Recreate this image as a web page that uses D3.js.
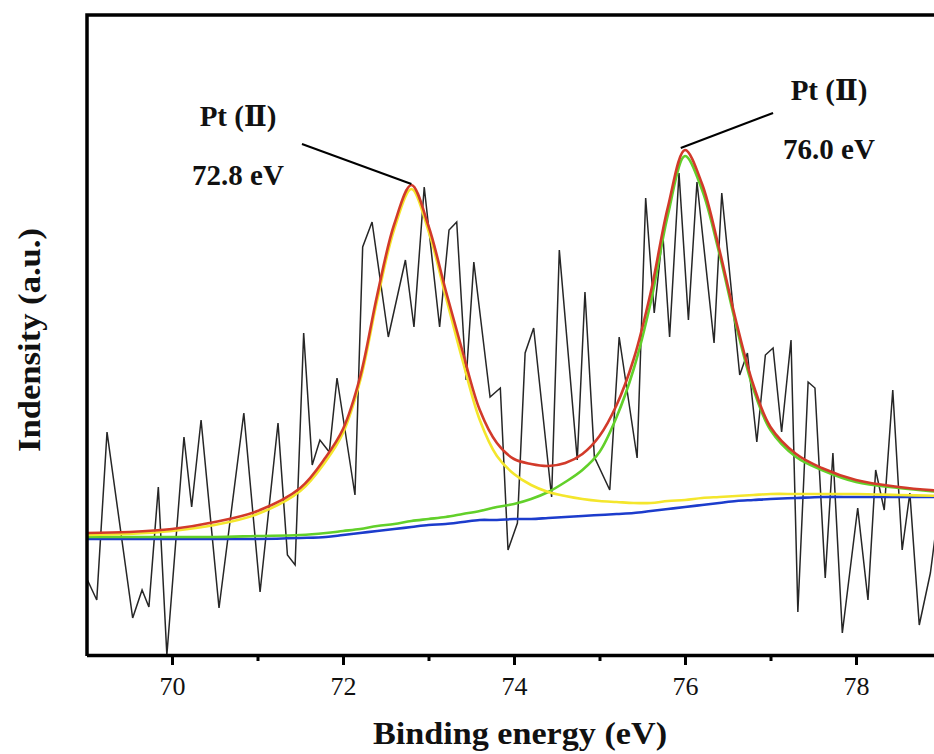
<!DOCTYPE html>
<html>
<head>
<meta charset="utf-8">
<script src="https://cdn.jsdelivr.net/npm/d3@7"></script>
<style>
body { margin: 0; background: #fff; }
text { font-family: "Liberation Serif", "Times New Roman", serif; fill: #111; }
</style>
</head>
<body>
<svg id="chart" width="934" height="754"></svg>
<script>
// measured spectrum (binding energy in eV, intensity in a.u.)
var energy = [69.0, 69.12, 69.24, 69.54, 69.65, 69.73, 69.84, 69.94, 70.14, 70.23,
  70.34, 70.55, 70.84, 71.03, 71.24, 71.35, 71.44, 71.54, 71.64, 71.73,
  71.84, 71.93, 72.14, 72.23, 72.34, 72.53, 72.73, 72.83, 72.95, 73.13,
  73.24, 73.33, 73.44, 73.53, 73.72, 73.84, 73.93, 74.04, 74.13, 74.23,
  74.44, 74.53, 74.74, 74.83, 74.94, 75.12, 75.23, 75.44, 75.54, 75.64,
  75.74, 75.82, 75.93, 76.04, 76.14, 76.34, 76.43, 76.64, 76.73, 76.84,
  76.94, 77.03, 77.13, 77.24, 77.32, 77.44, 77.52, 77.64, 77.73, 77.84,
  78.02, 78.14, 78.23, 78.33, 78.43, 78.54, 78.63, 78.74, 78.87, 78.95];
var counts = [7.7, 5.5, 22.3, 3.7, 6.5, 4.8, 16.8, 0.0, 21.8, 14.8,
  23.5, 4.7, 24.2, 6.3, 23.2, 10.0, 9.0, 32.2, 19.0, 21.5,
  20.3, 27.7, 16.0, 40.8, 43.3, 31.8, 39.5, 32.8, 46.8, 32.8,
  42.5, 43.3, 27.5, 39.3, 25.8, 26.7, 10.5, 13.2, 30.2, 32.7,
  15.8, 40.5, 19.5, 36.3, 19.8, 16.5, 31.8, 19.7, 45.7, 34.2,
  42.2, 31.8, 48.2, 33.5, 47.3, 31.2, 46.2, 28.0, 30.2, 21.3,
  30.0, 30.7, 22.3, 31.5, 4.3, 27.3, 26.7, 7.7, 20.2, 2.2,
  14.7, 5.5, 18.5, 14.5, 26.5, 10.5, 16.2, 3.0, 8.2, 13.5];

// fitted curves, read at the same energies
var fitEnergy = [69.0, 69.5, 70.0, 70.5, 71.0, 71.5, 71.8, 72.0, 72.2, 72.4,
  72.6, 72.8, 73.0, 73.2, 73.4, 73.6, 73.8, 74.0, 74.2, 74.4,
  74.6, 74.8, 75.0, 75.2, 75.4, 75.6, 75.8, 76.0, 76.2, 76.4,
  76.6, 76.8, 77.0, 77.3, 77.6, 78.0, 78.5, 79.0];
var fitSum = [12.2, 12.3, 12.6, 13.3, 14.4, 16.7, 19.8, 22.6, 27.8, 36.0,
  43.1, 47.0, 42.9, 36.5, 30.3, 24.5, 21.2, 19.6, 19.1, 18.9,
  19.2, 20.1, 21.9, 25.0, 29.6, 36.3, 44.8, 50.5, 47.1, 40.6,
  33.3, 27.0, 22.8, 20.1, 18.7, 17.5, 16.8, 16.4];
var fitPeak728 = [12.0, 12.1, 12.4, 13.0, 14.1, 16.4, 19.4, 22.2, 27.4, 35.5,
  42.6, 46.6, 42.4, 35.9, 29.4, 23.5, 19.9, 18.1, 17.0, 16.3,
  15.9, 15.6, 15.4, 15.3, 15.2, 15.2, 15.4, 15.5, 15.7, 15.8,
  15.9, 16.0, 16.1, 16.1, 16.1, 16.1, 16.0, 15.9];
var fitPeak760 = [11.8, 11.8, 11.8, 11.8, 11.9, 12.0, 12.2, 12.4, 12.6, 12.9,
  13.1, 13.4, 13.6, 13.8, 14.1, 14.4, 14.8, 15.1, 15.6, 16.3,
  17.3, 18.5, 20.3, 23.8, 28.6, 35.3, 44.0, 49.9, 46.5, 40.2,
  32.9, 26.6, 22.5, 19.8, 18.5, 17.3, 16.7, 16.3];
var fitBackground = [11.6, 11.6, 11.6, 11.6, 11.6, 11.7, 11.8, 12.0, 12.2, 12.4,
  12.6, 12.8, 13.0, 13.1, 13.3, 13.5, 13.5, 13.6, 13.6, 13.7,
  13.8, 13.9, 14.0, 14.1, 14.2, 14.4, 14.6, 14.8, 15.0, 15.2,
  15.4, 15.5, 15.6, 15.7, 15.8, 15.8, 15.8, 15.8];

var majorTicks = [70, 72, 74, 76, 78];
var minorTicks = [71, 73, 75, 77];

var svg = d3.select("#chart");

var x = d3.scaleLinear().domain([69, 79]).range([86.5, 941.5]);
var y = d3.scaleLinear().domain([0, 64]).range([655, 15]);

svg.append("clipPath").attr("id", "plotArea")
  .append("rect").attr("x", 87).attr("y", 15).attr("width", 870).attr("height", 642);

var plot = svg.append("g").attr("clip-path", "url(#plotArea)");

// raw data
var rawLine = d3.line()
  .x(function(i) { return x(energy[i]); })
  .y(function(i) { return y(counts[i]); });
plot.append("path")
  .attr("d", rawLine(d3.range(energy.length)))
  .attr("fill", "none").attr("stroke", "#262626").attr("stroke-width", 1.5)
  .attr("stroke-linejoin", "miter");

// fits
var fits = [
  { values: fitBackground, color: "#1c3ccc" },
  { values: fitPeak760, color: "#62d02a" },
  { values: fitPeak728, color: "#f4e62c" },
  { values: fitSum, color: "#d23a2a" }
];
fits.forEach(function(f) {
  var line = d3.line()
    .x(function(i) { return x(fitEnergy[i]); })
    .y(function(i) { return y(f.values[i]); })
    .curve(d3.curveCatmullRom.alpha(0.5));
  plot.append("path")
    .attr("d", line(d3.range(fitEnergy.length)))
    .attr("fill", "none").attr("stroke", f.color).attr("stroke-width", 2.6);
});

// frame: left and top edges
svg.append("path")
  .attr("d", "M87,656V15H960")
  .attr("fill", "none").attr("stroke", "#000").attr("stroke-width", 3.5);

// bottom axis
var axisMajor = d3.axisBottom(x).tickValues(majorTicks).tickSize(10).tickSizeOuter(0)
  .tickFormat(d3.format("d"));
var gx = svg.append("g").attr("transform", "translate(0,655)").call(axisMajor);
gx.select(".domain").attr("stroke-width", 3.5);
gx.selectAll(".tick line").attr("stroke-width", 3);
gx.selectAll(".tick text")
  .attr("y", 40).attr("dy", 0)
  .attr("font-size", 26).style("font-family", "'Liberation Serif', serif").attr("fill", "#111");

var axisMinor = d3.axisBottom(x).tickValues(minorTicks).tickSize(6).tickFormat("");
var gm = svg.append("g").attr("transform", "translate(0,655)").call(axisMinor);
gm.select(".domain").remove();
gm.selectAll(".tick line").attr("stroke-width", 3);

// axis titles
svg.append("text")
  .attr("x", 520).attr("y", 744)
  .attr("text-anchor", "middle")
  .attr("font-size", 31).attr("font-weight", "bold")
  .attr("textLength", 294).attr("lengthAdjust", "spacingAndGlyphs")
  .text("Binding energy (eV)");

svg.append("text")
  .attr("transform", "translate(40,340) rotate(-90)")
  .attr("text-anchor", "middle")
  .attr("font-size", 31).attr("font-weight", "bold")
  .attr("textLength", 224).attr("lengthAdjust", "spacingAndGlyphs")
  .text("Indensity (a.u.)");

// peak labels
function peakLabel(cx, top, energyText) {
  var t = svg.append("text")
    .attr("x", cx).attr("y", top)
    .attr("text-anchor", "middle")
    .attr("font-size", 29).attr("font-weight", "bold");
  t.append("tspan").text("Pt (");
  t.append("tspan").style("font-family", "'DejaVu Serif', serif").attr("font-size", 27).text("Ⅱ");
  t.append("tspan").text(")");
  svg.append("text")
    .attr("x", cx).attr("y", top + 59)
    .attr("text-anchor", "middle")
    .attr("font-size", 29).attr("font-weight", "bold")
    .text(energyText);
}
peakLabel(238, 126, "72.8 eV");
peakLabel(829, 100, "76.0 eV");

// leader lines from label to peak top
svg.append("line")
  .attr("x1", x(71.52)).attr("y1", y(51.1))
  .attr("x2", x(72.8)).attr("y2", y(47.1))
  .attr("stroke", "#000").attr("stroke-width", 2);
svg.append("line")
  .attr("x1", x(77.03)).attr("y1", y(54.2))
  .attr("x2", x(75.95)).attr("y2", y(50.7))
  .attr("stroke", "#000").attr("stroke-width", 2);
</script>
</body>
</html>
